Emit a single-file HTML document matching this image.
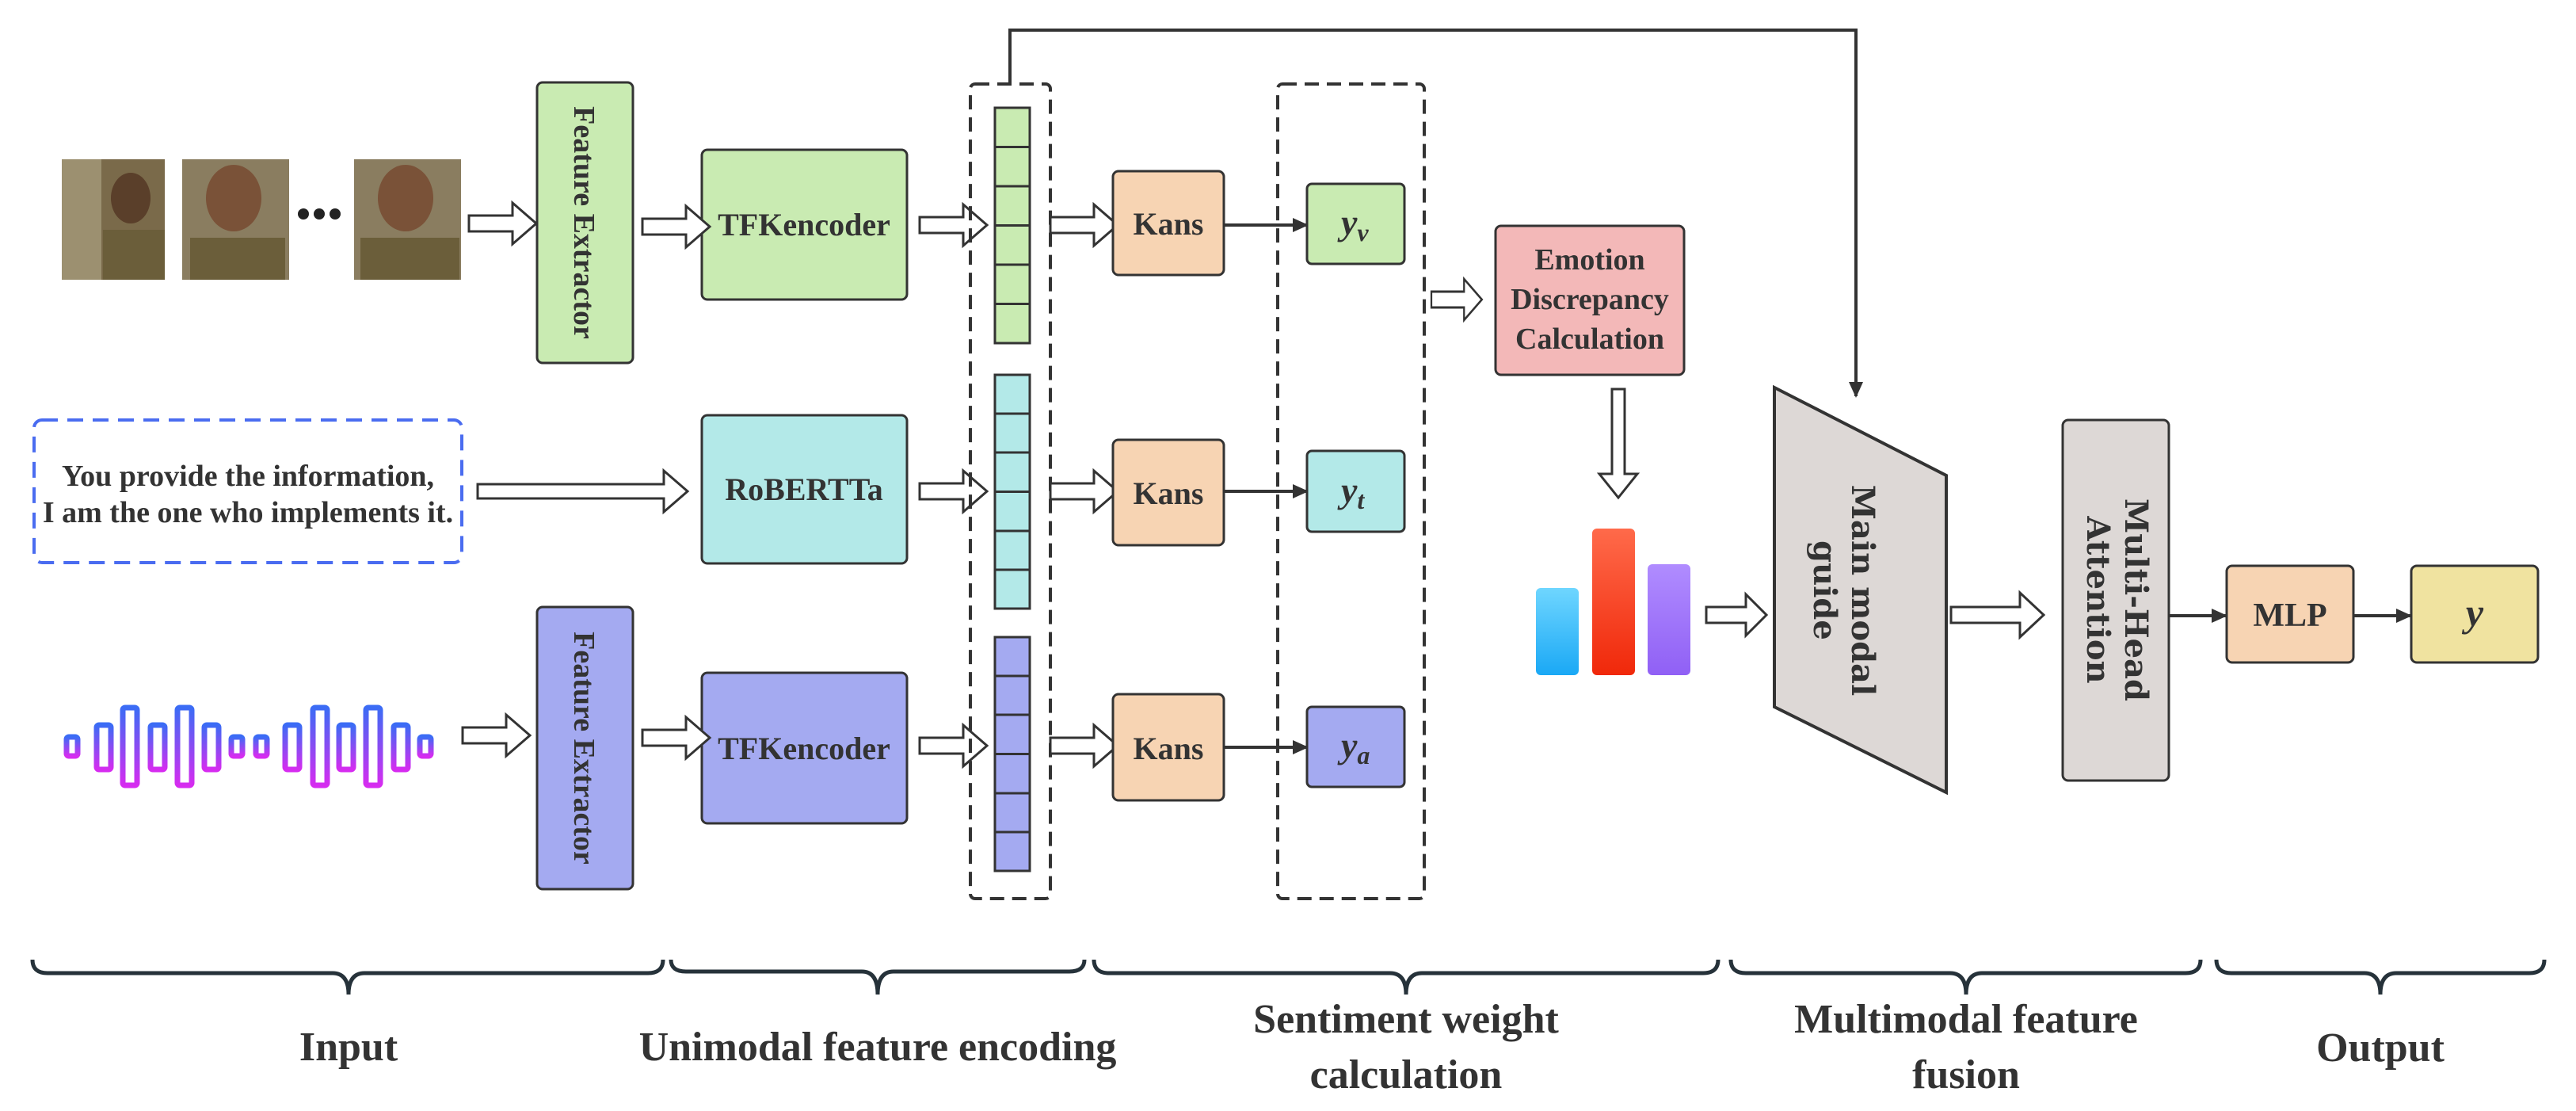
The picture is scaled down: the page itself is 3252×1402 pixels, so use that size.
<!DOCTYPE html>
<html><head><meta charset="utf-8"><style>
html,body{margin:0;padding:0;background:#fff;}
svg{display:block;}
text{font-family:"Liberation Serif",serif;font-weight:bold;fill:#333;}
</style></head><body>
<svg width="3252" height="1402" viewBox="0 0 3252 1402" xmlns="http://www.w3.org/2000/svg">
<defs>
<linearGradient id="wv" x1="0" y1="0" x2="0" y2="1"><stop offset="0" stop-color="#3b6cf5"/><stop offset="1" stop-color="#d62cf0"/></linearGradient>
<linearGradient id="b1" x1="0" y1="0" x2="0" y2="1"><stop offset="0" stop-color="#6fd6ff"/><stop offset="1" stop-color="#1aa8f5"/></linearGradient>
<linearGradient id="b2" x1="0" y1="0" x2="0" y2="1"><stop offset="0" stop-color="#ff6a4a"/><stop offset="1" stop-color="#f0280a"/></linearGradient>
<linearGradient id="b3" x1="0" y1="0" x2="0" y2="1"><stop offset="0" stop-color="#b08cff"/><stop offset="1" stop-color="#9060f5"/></linearGradient>
<marker id="ah2" markerWidth="20" markerHeight="20" refX="18" refY="10" orient="auto" markerUnits="userSpaceOnUse"><path d="M0,1 L20,10 L0,19 Z" fill="#333"/></marker>
<g id="ha"><path d="M0,-10 L55,-10 L55,-26 L85,0 L55,26 L55,10 L0,10 Z" fill="#fff" stroke="#333" stroke-width="3"/></g>
</defs>

<g>
<rect x="78" y="201" width="130" height="152" fill="#7a6a4a"/><rect x="78" y="201" width="50" height="152" fill="#9c9070"/><ellipse cx="165" cy="250" rx="25" ry="32" fill="#5a3f2a"/><rect x="130" y="290" width="78" height="63" fill="#6b5e3a"/>
<rect x="230" y="201" width="135" height="152" fill="#8a7d60"/><ellipse cx="295" cy="250" rx="35" ry="42" fill="#7a5238"/><rect x="240" y="300" width="120" height="53" fill="#6b5e3a"/>
<circle cx="383" cy="270" r="7" fill="#222"/><circle cx="403" cy="270" r="7" fill="#222"/><circle cx="423" cy="270" r="7" fill="#222"/>
<rect x="447" y="201" width="135" height="152" fill="#8a7d60"/><ellipse cx="512" cy="250" rx="35" ry="42" fill="#7a5238"/><rect x="455" y="300" width="125" height="53" fill="#6b5e3a"/>
</g>

<rect x="43" y="530" width="540" height="180" rx="10" fill="none" stroke="#4a6cf0" stroke-width="4" stroke-dasharray="20,12"/>
<text x="313" y="613" font-size="38" text-anchor="middle">You provide the information,</text>
<text x="313" y="659" font-size="38" text-anchor="middle">I am the one who implements it.</text>

<g fill="none" stroke="url(#wv)" stroke-width="7">
<rect x="84" y="930" width="14" height="24" rx="3"/>
<rect x="122" y="915" width="18" height="56" rx="3"/>
<rect x="155" y="893" width="18" height="98" rx="3"/>
<rect x="190" y="915" width="18" height="56" rx="3"/>
<rect x="224" y="893" width="18" height="98" rx="3"/>
<rect x="258" y="915" width="18" height="56" rx="3"/>
<rect x="292" y="930" width="14" height="24" rx="3"/>
<rect x="323" y="930" width="14" height="24" rx="3"/>
<rect x="360" y="915" width="18" height="56" rx="3"/>
<rect x="395" y="893" width="18" height="98" rx="3"/>
<rect x="428" y="915" width="18" height="56" rx="3"/>
<rect x="462" y="893" width="18" height="98" rx="3"/>
<rect x="497" y="915" width="18" height="56" rx="3"/>
<rect x="530" y="930" width="14" height="24" rx="3"/>
</g>

<rect x="678" y="104" width="121" height="354" rx="7" fill="#c9ebb2" stroke="#333" stroke-width="3"/>
<text transform="translate(725,281) rotate(90)" font-size="38" text-anchor="middle">Feature Extractor</text>
<rect x="678" y="766" width="121" height="356" rx="7" fill="#a4aaf1" stroke="#333" stroke-width="3"/>
<text transform="translate(725,944) rotate(90)" font-size="38" text-anchor="middle">Feature Extractor</text>

<rect x="886" y="189" width="259" height="189" rx="7" fill="#c9ebb2" stroke="#333" stroke-width="3"/>
<text x="1015" y="297" font-size="40" text-anchor="middle">TFKencoder</text>
<rect x="886" y="524" width="259" height="187" rx="7" fill="#b3e9e8" stroke="#333" stroke-width="3"/>
<text x="1015" y="631" font-size="40" text-anchor="middle">RoBERTTa</text>
<rect x="886" y="849" width="259" height="190" rx="7" fill="#a4aaf1" stroke="#333" stroke-width="3"/>
<text x="1015" y="958" font-size="40" text-anchor="middle">TFKencoder</text>

<use href="#ha" transform="translate(592,282)"/>
<use href="#ha" transform="translate(811,286)"/>
<use href="#ha" transform="translate(811,931)"/>
<use href="#ha" transform="translate(584,928)"/>
<path d="M603,611 L838,611 L838,594 L868,620 L838,646 L838,629 L603,629 Z" fill="#fff" stroke="#333" stroke-width="3"/>
<use href="#ha" transform="translate(1161,284)"/>
<use href="#ha" transform="translate(1161,620)"/>
<use href="#ha" transform="translate(1161,941)"/>

<rect x="1225" y="106" width="101" height="1028" rx="6" fill="none" stroke="#333" stroke-width="4" stroke-dasharray="18,10"/>
<g stroke="#333" stroke-width="3">
<rect x="1256" y="136" width="44" height="297" fill="#c9ebb2"/>
<rect x="1256" y="473" width="44" height="295" fill="#b3e9e8"/>
<rect x="1256" y="804" width="44" height="295" fill="#a4aaf1"/>
<path d="M1256,185.5h44M1256,235h44M1256,284.5h44M1256,334h44M1256,383.5h44
M1256,522h44M1256,571h44M1256,620.5h44M1256,670h44M1256,719h44
M1256,853h44M1256,902h44M1256,951.5h44M1256,1001h44M1256,1050h44"/>
</g>

<path d="M1275,106 V38 H2343 V500" fill="none" stroke="#333" stroke-width="4" marker-end="url(#ah2)"/>

<use href="#ha" transform="translate(1326,284)"/>
<use href="#ha" transform="translate(1326,620)"/>
<use href="#ha" transform="translate(1326,941)"/>

<g fill="#f7d4b3" stroke="#333" stroke-width="3">
<rect x="1405" y="216" width="140" height="131" rx="7"/>
<rect x="1405" y="555" width="140" height="133" rx="7"/>
<rect x="1405" y="876" width="140" height="134" rx="7"/>
</g>
<text x="1475" y="296" font-size="40" text-anchor="middle">Kans</text>
<text x="1475" y="636" font-size="40" text-anchor="middle">Kans</text>
<text x="1475" y="958" font-size="40" text-anchor="middle">Kans</text>

<g stroke="#333" stroke-width="4" marker-end="url(#ah2)">
<line x1="1545" y1="284" x2="1650" y2="284"/>
<line x1="1545" y1="620" x2="1650" y2="620"/>
<line x1="1545" y1="943" x2="1650" y2="943"/>
</g>

<rect x="1613" y="106" width="185" height="1028" rx="6" fill="none" stroke="#333" stroke-width="4" stroke-dasharray="18,10"/>
<rect x="1650" y="232" width="123" height="101" rx="6" fill="#c9ebb2" stroke="#333" stroke-width="3"/>
<rect x="1650" y="569" width="123" height="102" rx="6" fill="#b3e9e8" stroke="#333" stroke-width="3"/>
<rect x="1650" y="892" width="123" height="101" rx="6" fill="#a4aaf1" stroke="#333" stroke-width="3"/>
<text x="1693" y="296" font-size="46" font-style="italic" font-weight="normal">y<tspan font-size="32" dy="8">v</tspan></text>
<text x="1693" y="634" font-size="46" font-style="italic" font-weight="normal">y<tspan font-size="32" dy="8">t</tspan></text>
<text x="1693" y="956" font-size="46" font-style="italic" font-weight="normal">y<tspan font-size="32" dy="8">a</tspan></text>

<use href="#ha" transform="translate(1807,378) scale(0.75,1)"/>
<rect x="1888" y="285" width="238" height="188" rx="7" fill="#f3b8b8" stroke="#333" stroke-width="3"/>
<text x="2007" y="340" font-size="38" text-anchor="middle">Emotion</text>
<text x="2007" y="390" font-size="38" text-anchor="middle">Discrepancy</text>
<text x="2007" y="440" font-size="38" text-anchor="middle">Calculation</text>

<path d="M2035,491 L2051,491 L2051,598 L2067,598 L2043,628 L2019,598 L2035,598 Z" fill="#fff" stroke="#333" stroke-width="3"/>

<rect x="1939" y="742" width="54" height="110" rx="6" fill="url(#b1)"/>
<rect x="2010" y="667" width="54" height="185" rx="6" fill="url(#b2)"/>
<rect x="2080" y="712" width="54" height="140" rx="6" fill="url(#b3)"/>

<path d="M2154,766 L2204,766 L2204,750 L2230,776 L2204,802 L2204,786 L2154,786 Z" fill="#fff" stroke="#333" stroke-width="3"/>

<path d="M2240,489 L2457,600 L2457,1000 L2240,892 Z" fill="#ddd8d6" stroke="#333" stroke-width="4"/>
<text transform="translate(2338,745) rotate(90)" font-size="40" text-anchor="middle" style="font-family:'DejaVu Serif',serif">Main modal</text>
<text transform="translate(2290,745) rotate(90)" font-size="40" text-anchor="middle" style="font-family:'DejaVu Serif',serif">guide</text>

<path d="M2463,766 L2550,766 L2550,748 L2580,776 L2550,804 L2550,786 L2463,786 Z" fill="#fff" stroke="#333" stroke-width="3"/>

<rect x="2604" y="530" width="134" height="455" rx="7" fill="#ddd8d6" stroke="#333" stroke-width="3"/>
<text transform="translate(2683,757) rotate(90)" font-size="40" text-anchor="middle" style="font-family:'DejaVu Serif',serif">Multi-Head</text>
<text transform="translate(2635,757) rotate(90)" font-size="40" text-anchor="middle" style="font-family:'DejaVu Serif',serif">Attention</text>

<line x1="2738" y1="777" x2="2810" y2="777" stroke="#333" stroke-width="4" marker-end="url(#ah2)"/>
<rect x="2811" y="714" width="160" height="122" rx="7" fill="#f7d4b3" stroke="#333" stroke-width="3"/>
<text x="2891" y="790" font-size="42" text-anchor="middle">MLP</text>
<line x1="2971" y1="777" x2="3043" y2="777" stroke="#333" stroke-width="4" marker-end="url(#ah2)"/>
<rect x="3044" y="714" width="160" height="122" rx="7" fill="#f0e3a0" stroke="#333" stroke-width="3"/>
<text x="3124" y="790" font-size="50" text-anchor="middle" font-style="italic" font-weight="normal">y</text>

<g fill="none" stroke="#26323a" stroke-width="5">
<path d="M41,1211 Q41,1228 60,1228 H420 Q440,1228 440,1255 Q440,1228 460,1228 H818 Q837,1228 837,1211"/>
<path d="M847,1211 Q847,1226 866,1226 H1088 Q1108,1226 1108,1255 Q1108,1226 1128,1226 H1350 Q1369,1226 1369,1211"/>
<path d="M1381,1211 Q1381,1228 1400,1228 H1755 Q1775,1228 1775,1255 Q1775,1228 1795,1228 H2150 Q2169,1228 2169,1211"/>
<path d="M2185,1211 Q2185,1228 2204,1228 H2462 Q2482,1228 2482,1255 Q2482,1228 2502,1228 H2759 Q2778,1228 2778,1211"/>
<path d="M2798,1211 Q2798,1228 2817,1228 H2985 Q3005,1228 3005,1255 Q3005,1228 3025,1228 H3193 Q3212,1228 3212,1211"/>
</g>
<g font-size="52" text-anchor="middle">
<text x="440" y="1338">Input</text>
<text x="1108" y="1338">Unimodal feature encoding</text>
<text x="1775" y="1303">Sentiment weight</text>
<text x="1775" y="1373">calculation</text>
<text x="2482" y="1303">Multimodal feature</text>
<text x="2482" y="1373">fusion</text>
<text x="3005" y="1339">Output</text>
</g>
</svg>
</body></html>
